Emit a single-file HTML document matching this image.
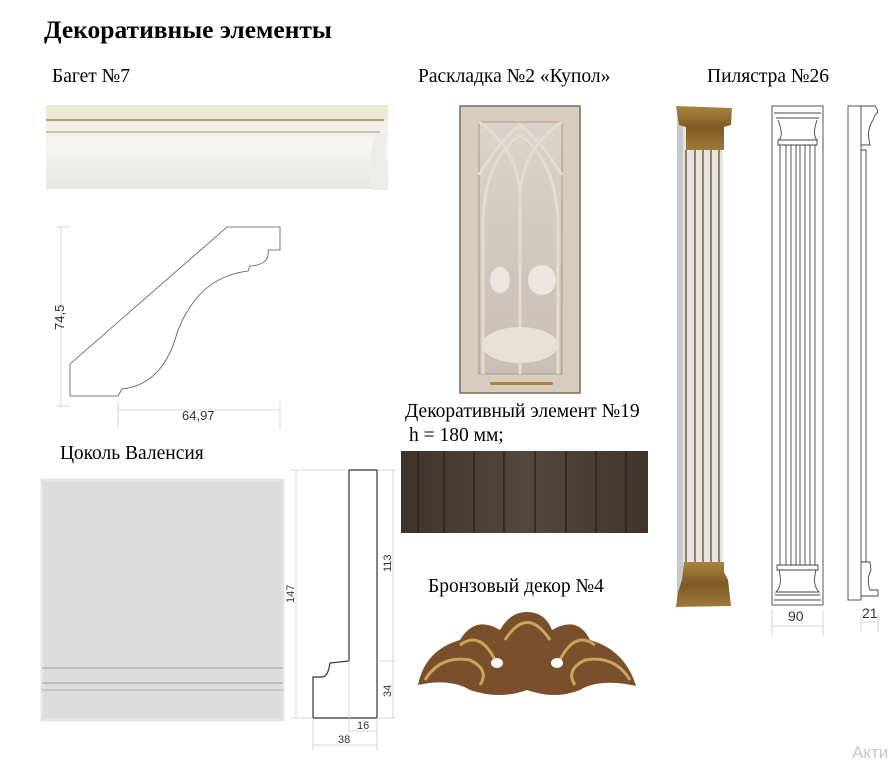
<!DOCTYPE html>
<html><head><meta charset="utf-8"><style>
html,body{margin:0;padding:0;background:#fff;}
svg{display:block}
</style></head><body>
<svg width="888" height="760" viewBox="0 0 888 760" xmlns="http://www.w3.org/2000/svg" font-family="Liberation Serif, serif">
<defs>
<linearGradient id="bag" x1="0" y1="0" x2="0" y2="1">
<stop offset="0" stop-color="#f1ece0"/><stop offset="0.5" stop-color="#f4f4f2"/><stop offset="1" stop-color="#e6e6e4"/></linearGradient>
<linearGradient id="gold" x1="0" y1="0" x2="0" y2="1">
<stop offset="0" stop-color="#a9843f"/><stop offset="0.5" stop-color="#7d5a25"/><stop offset="1" stop-color="#a07a38"/></linearGradient>
<linearGradient id="wood" x1="0" y1="0" x2="1" y2="0">
<stop offset="0" stop-color="#3e342b"/><stop offset="0.5" stop-color="#54483c"/><stop offset="1" stop-color="#3f352c"/></linearGradient>
<linearGradient id="glass" x1="0" y1="0" x2="0" y2="1">
<stop offset="0" stop-color="#d9d3cc"/><stop offset="1" stop-color="#c8bfb5"/></linearGradient>
</defs>

<text x="44" y="38" font-size="25.5" font-weight="bold">Декоративные элементы</text>
<text x="52" y="82" font-size="19.5">Багет №7</text>
<text x="418" y="82" font-size="19.5">Раскладка №2 «Купол»</text>
<text x="707" y="82" font-size="19.5">Пилястра №26</text>
<text x="60" y="459" font-size="19.5">Цоколь Валенсия</text>
<text x="405" y="417" font-size="19.5">Декоративный элемент №19</text>
<text x="409" y="441" font-size="19.5">h = 180 мм;</text>
<text x="428" y="592" font-size="19.5">Бронзовый декор №4</text>

<!-- baguette photo -->
<rect x="46" y="105" width="342" height="84" fill="url(#bag)"/>
<rect x="46" y="105" width="342" height="14" fill="#efe8d6"/>
<rect x="46" y="119" width="338" height="2" fill="#b59a6a"/>
<rect x="46" y="131" width="334" height="2" fill="#d2c19c"/>
<path d="M376 133 Q366 160 372 190 L388 190 Q380 160 388 133Z" fill="#ececea"/>

<!-- baguette profile -->
<g fill="none" stroke="#555" stroke-width="0.8">
<path d="M227 227 L280 227 L280 250 L268 250 Q270 265 250 266 L248 271 Q215 275 195 300 Q180 320 175 340 Q160 385 122 389 L118 396 L70 396 L70 364 Z"/>
</g>
<g stroke="#ccc" stroke-width="0.8">
<line x1="61" y1="227" x2="61" y2="406"/><line x1="57" y1="227" x2="70" y2="227"/><line x1="57" y1="406" x2="70" y2="406"/>
<line x1="118" y1="410" x2="280" y2="410"/><line x1="118" y1="402" x2="118" y2="428"/><line x1="280" y1="402" x2="280" y2="428"/>
</g>
<text x="0" y="0" font-family="Liberation Sans, sans-serif" font-size="13" fill="#333" transform="translate(64,330) rotate(-90)">74,5</text>
<text x="182" y="420" font-family="Liberation Sans, sans-serif" font-size="13" fill="#333">64,97</text>

<!-- door -->
<rect x="460" y="106" width="120" height="287" fill="#d6cdbf" stroke="#7a6a58" stroke-width="1.5"/>
<rect x="479" y="122" width="83" height="252" fill="url(#glass)" stroke="#a89a88"/>
<g fill="none" stroke="#e3dccf" stroke-width="3">
<path d="M479 122 Q520 150 520 200"/><path d="M562 122 Q520 150 520 200"/>
<path d="M479 175 Q500 140 520 125 Q540 140 562 175"/>
<path d="M483 374 L483 220 Q485 160 520 135 Q555 160 558 220 L558 374"/>
<line x1="520" y1="200" x2="520" y2="374"/>
</g>
<ellipse cx="500" cy="280" rx="10" ry="13" fill="#ebe6df"/>
<ellipse cx="542" cy="280" rx="14" ry="15" fill="#ebe6df"/>
<ellipse cx="520" cy="345" rx="38" ry="18" fill="#e6e0d8"/>
<rect x="490" y="382" width="63" height="3" rx="1.5" fill="#a8843e"/>

<!-- wood panel -->
<rect x="401" y="451" width="247" height="82" fill="url(#wood)"/>
<g stroke="#2c241e" stroke-width="2" opacity="0.7">
<line x1="418" y1="451" x2="418" y2="533"/><line x1="444" y1="451" x2="444" y2="533"/><line x1="474" y1="451" x2="474" y2="533"/><line x1="504" y1="451" x2="504" y2="533"/><line x1="535" y1="451" x2="535" y2="533"/><line x1="566" y1="451" x2="566" y2="533"/><line x1="596" y1="451" x2="596" y2="533"/><line x1="626" y1="451" x2="626" y2="533"/>
</g>

<!-- bronze decor -->
<g>
<path d="M418 685 Q425 650 460 640 Q475 615 500 630 Q510 612 527 612 Q545 612 552 630 Q578 615 590 640 Q625 650 636 686 Q600 678 580 690 Q555 700 527 690 Q500 700 470 690 Q450 678 418 685Z" fill="#7a4f2c"/>
<g fill="none" stroke="#c9a45a" stroke-width="3">
<path d="M425 680 Q440 655 470 660 Q490 670 480 685"/>
<path d="M630 680 Q615 655 585 660 Q565 670 575 685"/>
<path d="M505 640 Q527 605 550 640"/>
<path d="M460 645 Q480 630 495 660"/><path d="M595 645 Q575 630 560 660"/>
</g>
<ellipse cx="497" cy="663" rx="6" ry="5" fill="#fff"/><ellipse cx="557" cy="663" rx="6" ry="5" fill="#fff"/>
</g>

<!-- plinth photo -->
<rect x="42" y="480" width="241" height="240" fill="#dcdcdc"/>
<rect x="42" y="480" width="241" height="240" fill="none" stroke="#e4e4e4" stroke-width="3"/>
<rect x="42" y="667" width="241" height="2" fill="#bdbdbd"/>
<rect x="42" y="682" width="241" height="2" fill="#bdbdbd"/>
<rect x="42" y="689" width="241" height="2" fill="#c6c6c6"/>

<!-- plinth profile -->
<path d="M349 470 L377 470 L377 718 L313 718 L313 677 L322 677 Q328 677 330 663 L349 661 Z" fill="none" stroke="#333" stroke-width="1.2"/>
<g stroke="#ccc" stroke-width="0.8">
<line x1="296" y1="470" x2="296" y2="718"/><line x1="290" y1="470" x2="349" y2="470"/><line x1="290" y1="718" x2="313" y2="718"/>
<line x1="393" y1="470" x2="393" y2="718"/><line x1="377" y1="661" x2="396" y2="661"/><line x1="377" y1="470" x2="396" y2="470"/><line x1="377" y1="718" x2="396" y2="718"/>
<line x1="349" y1="661" x2="349" y2="735"/><line x1="349" y1="731" x2="377" y2="731"/>
<line x1="313" y1="718" x2="313" y2="750"/><line x1="313" y1="745" x2="377" y2="745"/><line x1="377" y1="718" x2="377" y2="750"/>
</g>
<g font-family="Liberation Sans, sans-serif" font-size="11" fill="#333">
<text transform="translate(294,603) rotate(-90)">147</text>
<text transform="translate(391,572) rotate(-90)">113</text>
<text transform="translate(391,697) rotate(-90)">34</text>
<text x="357" y="729">16</text>
<text x="338" y="743">38</text>
</g>

<!-- pilaster photo -->
<rect x="677" y="110" width="46" height="495" fill="#e2e3e6"/>
<rect x="677" y="110" width="6" height="495" fill="#c8c9cc"/>
<path d="M676 106 L732 108 L731 125 L724 127 L724 150 L686 150 L686 127 L679 125 Z" fill="url(#gold)"/>
<g stroke="#8b6530" stroke-width="1.6">
<line x1="686" y1="150" x2="686" y2="562"/><line x1="695" y1="150" x2="695" y2="562"/><line x1="703" y1="150" x2="703" y2="562"/><line x1="711" y1="150" x2="711" y2="562"/><line x1="719" y1="150" x2="719" y2="562"/>
</g>
<path d="M684 562 L724 562 L724 572 L728 580 L730 597 L731 606 L676 607 L678 592 L682 580 Z" fill="url(#gold)"/>

<!-- pilaster drawing -->
<g fill="none" stroke="#444" stroke-width="0.9">
<rect x="772" y="106" width="51" height="499"/>
<path d="M774 113 L821 113 M776 118 L819 118 M778 120 Q784 135 779 140 L817 140 Q812 135 817 120 M778 140 L817 140 L817 145 L778 145 Z"/>
<line x1="780" y1="145" x2="780" y2="565"/><line x1="786" y1="145" x2="786" y2="565"/><line x1="791" y1="145" x2="791" y2="565"/><line x1="796" y1="145" x2="796" y2="565"/><line x1="800" y1="145" x2="800" y2="565"/><line x1="805" y1="145" x2="805" y2="565"/><line x1="810" y1="145" x2="810" y2="565"/><line x1="815" y1="145" x2="815" y2="565"/>
<path d="M777 565 L818 565 L818 570 L777 570 Z M779 570 Q783 585 776 592 L819 592 Q812 585 816 570 M775 595 L820 595 M774 600 L821 600"/>
<rect x="848" y="106" width="13" height="494"/>
<path d="M861 106 L875 106 Q880 112 875 115 L873 120 Q866 130 870 145 L861 145 M861 150 L866 150 L866 562 M861 562 L870 562 L871 570 Q866 580 870 590 L878 590 L878 596 L861 596"/>
</g>
<g stroke="#ccc" stroke-width="0.8">
<line x1="772" y1="610" x2="772" y2="636"/><line x1="823" y1="610" x2="823" y2="636"/><line x1="772" y1="626" x2="823" y2="626"/>
<line x1="861" y1="615" x2="861" y2="632"/><line x1="878" y1="615" x2="878" y2="632"/><line x1="861" y1="622" x2="878" y2="622"/>
</g>
<g font-family="Liberation Sans, sans-serif" font-size="14" fill="#333">
<text x="788" y="621">90</text>
<text x="862" y="618">21</text>
</g>
<text x="852" y="758" font-family="Liberation Sans, sans-serif" font-size="17" fill="#c8c8c8">Акти</text>
</svg>
</body></html>
